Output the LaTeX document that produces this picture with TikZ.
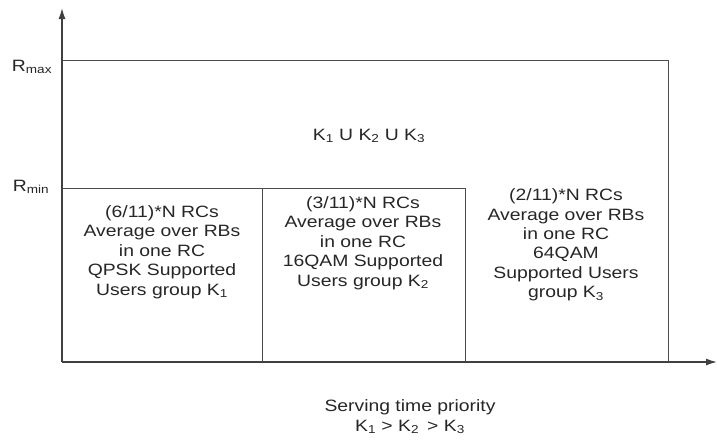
\documentclass[tikz,border=0pt]{standalone}
\usepackage{fontspec}
\setmainfont{Liberation Sans}[FakeStretch=1.18]
\usepackage{tikz}
\usetikzlibrary{positioning,arrows.meta,calc}

\begin{document}
\begin{tikzpicture}[
    x=1pt, y=-1pt,
    axis/.style={line width=1.4pt, black!75, -{Latex[length=11pt,width=7pt]}},
    region/.style={line width=0.8pt, black!70},
    txt/.style={align=center, inner sep=0pt, text=black!85, font=\fontsize{16.4}{19.4}\selectfont},
    lvl/.style={inner sep=0pt, text=black!85, font=\fontsize{16.4}{19.4}\selectfont}
]
\useasboundingbox (0,0) rectangle (717,439);

% Axes
\coordinate (o) at (62,362);
\coordinate (ytip) at (62,8);
\coordinate (xtip) at (717,362);

% Region corners
\coordinate (maxl) at (62,60);
\coordinate (maxr) at (668,60);
\coordinate (maxb) at (668,362);
\coordinate (minl) at (62,188);
\coordinate (mina) at (262,188);
\coordinate (minr) at (465,188);
\coordinate (diva) at (262,362);
\coordinate (divb) at (465,362);

% Outer region (Rmax)
\draw[region] (maxl) -- (maxr) -- (maxb);
% Inner regions (Rmin)
\draw[region] (minl) -- (minr) -- (divb);
\draw[region] (mina) -- (diva);

\draw[axis] (o) -- (ytip);
\draw[axis] (o) -- (xtip);

% Level labels
\node[lvl] (rmax) at (32,67) {R\textsubscript{max}};
\node[lvl] (rmin) at (31,187) {R\textsubscript{min}};

% Region texts
\node[txt] (union) at (369,136) {K\textsubscript{1} U K\textsubscript{2} U K\textsubscript{3}};
\node[txt] (k1) at (162,252) {(6/11)*N RCs\\Average over RBs\\in one RC\\QPSK Supported\\Users group K\textsubscript{1}};
\node[txt] (k2) at (363,243) {(3/11)*N RCs\\Average over RBs\\in one RC\\16QAM Supported\\Users group K\textsubscript{2}};
\node[txt] (k3) at (566,245) {(2/11)*N RCs\\Average over RBs\\in one RC\\64QAM\\Supported Users\\group K\textsubscript{3}};

% Axis caption
\node[txt] (prio) at (410,417) {Serving time priority\\K\textsubscript{1} > K\textsubscript{2} \,> K\textsubscript{3}};
\end{tikzpicture}
\end{document}
